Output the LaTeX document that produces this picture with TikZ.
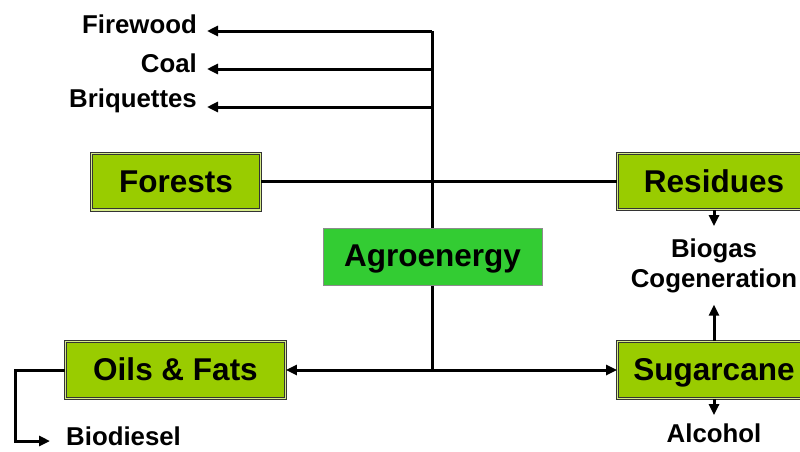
\documentclass[tikz,border=0pt]{standalone}
\usepackage{fontspec}
\setmainfont{Liberation Sans}
\usetikzlibrary{arrows.meta,calc}
\definecolor{boxgreen}{HTML}{99CC00}
\definecolor{boxrim}{HTML}{D6EB8A}
\definecolor{agrogreen}{HTML}{33CC33}
\tikzset{
  srcbox/.style={draw=black!80, line width=1pt, double=boxrim, double distance=1.2pt,
    fill=boxgreen, inner sep=0pt, font=\fontsize{31.5}{31.5}\selectfont\bfseries,
    text height=22pt, text depth=1pt},
  hubbox/.style={draw=black!45, line width=0.8pt, fill=agrogreen, inner sep=0pt,
    font=\fontsize{31.5}{31.5}\selectfont\bfseries, text height=22pt, text depth=3pt,
    minimum width=219pt, minimum height=57pt},
  lbl/.style={inner sep=0pt, font=\fontsize{25.8}{25.8}\selectfont\bfseries},
  flow/.style={line width=3pt},
  arr/.style={flow, -{Triangle[length=11pt,width=10pt]}},
}
\begin{document}
\begin{tikzpicture}[x=1pt, y=-1pt]
  \useasboundingbox (0,0) rectangle (800,451);
  \clip (0,0) rectangle (800,451);

  % source boxes
  \node[srcbox, minimum width=168.8pt, minimum height=56.8pt] (forests) at (176,181.5) {Forests};
  \node[srcbox, minimum width=192.8pt, minimum height=56pt] (residues) at (714,181.5) {Residues};
  \node[srcbox, minimum width=219.8pt, minimum height=56.8pt] (oils) at (175.5,370) {Oils \& Fats};
  \node[srcbox, minimum width=192.8pt, minimum height=56.8pt] (sugar) at (714,370) {Sugarcane};

  % product labels
  \node[lbl, anchor=base east] (fire) at (197,33) {Firewood};
  \node[lbl, anchor=base east] (coal) at (197,72) {Coal};
  \node[lbl, anchor=base east] (briq) at (197,107.5) {Briquettes};
  \node[lbl, anchor=base] (biogas) at (714,257) {Biogas};
  \node[lbl, anchor=base] (cogen) at (714,287) {Cogeneration};
  \node[lbl, anchor=base west] (biod) at (66,445) {Biodiesel};
  \node[lbl, anchor=base] (alc) at (714,442) {Alcohol};

  % trunk and branch points
  \coordinate (jfire) at (432,31);
  \coordinate (jcoal) at (432,69);
  \coordinate (jbriq) at (432,107);
  \coordinate (jbot) at (432,370);
  \coordinate (bend) at (15,441);

  \draw[flow] (forests.east) -- (residues.west);
  \draw[flow] (jfire) -- (jbot);

  % central hub sits over the trunk
  \node[hubbox] (agro) at (432.5,256.5) {Agroenergy};

  \draw[arr, shorten >=10pt] (jfire) -- (jfire -| fire.east);
  \draw[arr, shorten >=10pt] (jcoal) -- (jcoal -| coal.east);
  \draw[arr, shorten >=10pt] (jbriq) -- (jbriq -| briq.east);

  \draw[arr] (jbot) -- (oils.east);
  \draw[arr] (jbot) -- (sugar.west);

  \draw[arr, shorten >=12pt] (residues.south) -- (biogas.north);
  \draw[arr, shorten >=12pt] (sugar.north) -- (cogen.south);
  \draw[arr, shorten >=8pt] (sugar.south) -- (alc.north);

  \draw[arr, shorten >=16pt] (oils.west) -| (bend) -- (bend -| biod.west);
\end{tikzpicture}
\end{document}
